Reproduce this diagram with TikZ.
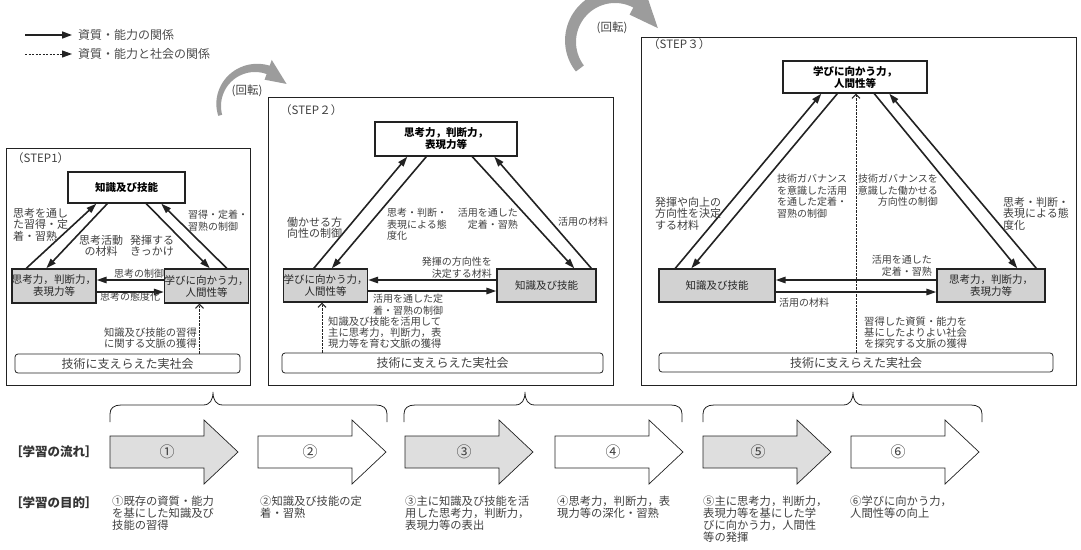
\documentclass[tikz,border=0pt]{standalone}
\usepackage{fontspec}
\setmainfont{Noto Sans CJK JP}
\usetikzlibrary{arrows.meta,calc}
\definecolor{tx}{HTML}{404040}
\definecolor{boxgray}{HTML}{D2D2D2}
\definecolor{arrgray}{HTML}{DEDEDE}
\definecolor{rotgray}{HTML}{9C9C9C}
\definecolor{ln}{HTML}{222222}
\begin{document}
\begin{tikzpicture}[x=1pt,y=-1pt,
 panel/.style={draw=ln, line width=0.8pt},
 topbox/.style={draw=ln, line width=1.4pt, fill=white, font=\fontsize{10.5}{12}\selectfont\bfseries, align=center, inner sep=0pt},
 graybox/.style={draw=ln, line width=1.4pt, fill=boxgray, font=\fontsize{10.5}{12}\selectfont, text=black!85, align=center, inner sep=0pt},
 soc/.style={draw=ln, line width=0.8pt, rounded corners=3pt, fill=white, font=\fontsize{12}{13}\selectfont, text=tx, inner sep=0pt},
 arr/.style={draw=ln, line width=1.6pt, -{Triangle[length=10pt,width=6.5pt]}},
 darr/.style={draw=ln, line width=1pt, dash pattern=on 2.2pt off 1.3pt, -{Straight Barb[length=4pt,width=8pt,line width=1pt]}},
 lbl/.style={font=\fontsize{11}{11.5}\selectfont, text=tx, inner sep=0pt},
 nlbl/.style={font=\fontsize{10}{11.5}\selectfont, text=tx, inner sep=0pt},
 slbl/.style={font=\fontsize{10.3}{10.6}\selectfont, text=tx, inner sep=0pt},
 steplbl/.style={font=\fontsize{11.5}{12}\selectfont, text=tx, inner sep=0pt, anchor=west},
 rotlbl/.style={font=\fontsize{11.5}{12}\selectfont, text=tx, inner sep=0pt},
 lglbl/.style={font=\fontsize{12}{13}\selectfont, text=black!70, inner sep=0pt, anchor=west},
 headlbl/.style={font=\fontsize{12.5}{13}\selectfont\bfseries, text=black!80, inner sep=0pt, anchor=west},
 purp/.style={font=\fontsize{11.3}{11.8}\selectfont, text=tx, inner sep=0pt, anchor=north west, align=left},
 numlbl/.style={font=\fontsize{15}{16}\selectfont, text=black!75, inner sep=0pt},
 blk/.style={draw=ln, line width=0.7pt},
 brace/.style={draw=ln, line width=0.8pt}
]
\useasboundingbox (0,0) rectangle (1081,549);

% ---------- legend ----------
\node[lglbl] (lg1) at (78,35) {資質・能力の関係};
\node[lglbl] (lg2) at (78,54) {資質・能力と社会の関係};
\coordinate (lg1s) at (25,35);
\coordinate (lg2s) at (25,54);
\draw[draw=ln, line width=1.6pt, -{Triangle[length=10pt,width=7pt]}] (lg1s) -- ($(lg1.west)+(-6,0)$);
\draw[draw=ln, line width=1pt, dash pattern=on 2.2pt off 1.3pt, -{Triangle[length=10pt,width=7pt]}] (lg2s) -- ($(lg2.west)+(-6,0)$);

% ---------- rotation arrows ----------
\fill[rotgray] plot[domain=165:292,samples=40] ({255+34*cos(\x)},{106+34*sin(\x)})
  -- plot[domain=292:165,samples=40] ({255+(38+5*(\x-165)/127)*cos(\x)},{106+(38+5*(\x-165)/127)*sin(\x)}) -- cycle;
\fill[rotgray] ({255+28*cos(290)},{106+28*sin(290)}) -- ({255+49*cos(290)},{106+49*sin(290)}) -- ({255+38.5*cos(325)},{106+38.5*sin(325)}) -- cycle;
\node[rotlbl] (rot1) at (247,91) {(回転)};

\fill[rotgray] plot[domain=143:300,samples=40] ({615+39*cos(\x)},{42+39*sin(\x)})
  -- plot[domain=300:143,samples=40] ({615+(49+4*(\x-143)/157)*cos(\x)},{42+(49+4*(\x-143)/157)*sin(\x)}) -- cycle;
\fill[rotgray] ({615+31*cos(298)},{42+31*sin(298)}) -- ({615+62*cos(298)},{42+62*sin(298)}) -- ({615+45*cos(342)},{42+45*sin(342)}) -- cycle;
\node[rotlbl] (rot2) at (612,28) {(回転)};

% ---------- STEP 1 ----------
\draw[panel] (6,148) rectangle (250,385);
\node[steplbl] (st1) at (12,158) {（STEP1）};
\node[topbox, minimum width=117pt, minimum height=31pt] (k1) at (126.5,187.5) {知識及び技能};
\node[graybox, minimum width=84pt, minimum height=34pt] (t1) at (54,286) {思考力，判断力，\\表現力等};
\node[graybox, minimum width=79pt, minimum height=34pt] (l1) at (206.5,286) {学びに向かう力，\\人間性等};
\node[soc, minimum width=225pt, minimum height=19pt] (s1) at (127.5,363.5) {技術に支えらえた実社会};

\draw[arr] ($(t1.north west)+(15,0)$) -- ($(k1.south west)+(29,0)$);
\draw[arr] ($(k1.south west)+(40,0)$) -- ($(t1.north west)+(35,0)$);
\draw[arr] ($(k1.south west)+(79,0)$) -- ($(l1.north west)+(46,0)$);
\draw[arr] ($(l1.north west)+(63,0)$) -- ($(k1.south west)+(94,0)$);
\draw[arr] ($(l1.west)+(0,-6)$) -- ($(t1.east)+(0,-6)$);
\draw[arr] ($(t1.east)+(0,6)$) -- ($(l1.west)+(0,6)$);
\coordinate (d1) at ($(l1.south)+(-7,0)$);
\draw[darr] (s1.north -| d1) -- (d1);

\node[lbl, anchor=north west, align=left] (a11) at (13,208) {思考を通し\\た習得・定\\着・習熟};
\node[lbl, anchor=north, align=center] (a12) at (101,235) {思考活動\\の材料};
\node[lbl, anchor=north, align=center] (a13) at (152,235) {発揮する\\きっかけ};
\node[nlbl, anchor=north west, align=left] (a14) at (188,210) {習得・定着・\\習熟の制御};
\node[nlbl] (a15) at (139,274) {思考の制御};
\node[nlbl] (a16) at (130,297) {思考の態度化};
\node[slbl, anchor=north east, align=right] (a17) at (197,328) {知識及び技能の習得\\に関する文脈の獲得};

% ---------- STEP 2 ----------
\draw[panel] (268,97) rectangle (613,385);
\node[steplbl] (st2) at (280,110) {（STEP２）};
\node[topbox, minimum width=142pt, minimum height=34pt] (t2) at (446,139) {思考力，判断力，\\表現力等};
\node[graybox, minimum width=83pt, minimum height=33pt] (l2) at (325.5,285.5) {学びに向かう力，\\人間性等};
\node[graybox, minimum width=99pt, minimum height=33pt] (k2) at (546.5,285.5) {知識及び技能};
\node[soc, minimum width=321pt, minimum height=20pt] (s2) at (442.5,363) {技術に支えらえた実社会};

\draw[arr] ($(l2.north west)+(31,0)$) -- ($(t2.south west)+(33,0)$);
\draw[arr] ($(t2.south west)+(52,0)$) -- ($(l2.north west)+(49,0)$);
\draw[arr] ($(t2.south west)+(98,0)$) -- ($(k2.north west)+(78,0)$);
\draw[arr] ($(k2.north west)+(95,0)$) -- ($(t2.south west)+(120,0)$);
\draw[arr] ($(k2.west)+(0,-5.5)$) -- ($(l2.east)+(0,-5.5)$);
\draw[arr] ($(l2.east)+(0,5.5)$) -- ($(k2.west)+(0,5.5)$);
\coordinate (d2) at ($(l2.south)+(-3.5,0)$);
\draw[darr] (s2.north -| d2) -- (d2);

\node[lbl, anchor=north west, align=left] (a21) at (287,217) {働かせる方\\向性の制御};
\node[nlbl, anchor=north west, align=left] (a22) at (387,208) {思考・判断・\\表現による態\\度化};
\node[nlbl, anchor=north east, align=right] (a23) at (518,208) {活用を通した\\定着・習熟};
\node[nlbl, anchor=north west, align=left] (a24) at (558,217) {活用の材料};
\node[nlbl, anchor=north east, align=right] (a25) at (492,257) {発揮の方向性を\\決定する材料};
\node[nlbl, anchor=north west, align=left] (a26) at (373,294) {活用を通した定\\着・習熟の制御};
\node[slbl, anchor=north west, align=left] (a27) at (328,317) {知識及び技能を活用して\\主に思考力，判断力，表\\現力等を育む文脈の獲得};

% ---------- STEP 3 ----------
\draw[panel] (641,37) rectangle (1076,385);
\node[steplbl] (st3) at (648,44) {（STEP３）};
\node[topbox, minimum width=144pt, minimum height=32pt] (l3) at (855,77) {学びに向かう力，\\人間性等};
\node[graybox, minimum width=116pt, minimum height=33pt] (k3) at (717,285.5) {知識及び技能};
\node[graybox, minimum width=108pt, minimum height=33pt] (t3) at (991,285.5) {思考力，判断力，\\表現力等};
\node[soc, minimum width=394pt, minimum height=19pt] (s3) at (856,362.5) {技術に支えらえた実社会};

\draw[arr] ($(k3.north west)+(17,0)$) -- ($(l3.south west)+(39,0)$);
\draw[arr] ($(l3.south west)+(55,0)$) -- ($(k3.north west)+(33,0)$);
\draw[arr] ($(l3.south west)+(92,0)$) -- ($(t3.north west)+(81,0)$);
\draw[arr] ($(t3.north west)+(100,0)$) -- ($(l3.south west)+(107,0)$);
\draw[arr] ($(t3.west)+(0,-5.5)$) -- ($(k3.east)+(0,-5.5)$);
\draw[arr] ($(k3.east)+(0,6.5)$) -- ($(t3.west)+(0,6.5)$);
\coordinate (d3) at ($(l3.south)+(1,0)$);
\draw[darr] (s3.north -| d3) -- (d3);

\node[lbl, anchor=north west, align=left] (a31) at (655,197) {発揮や向上の\\方向性を決定\\する材料};
\node[nlbl, anchor=north west, align=left] (a32) at (777,174) {技術ガバナンス\\を意識した活用\\を通した定着・\\習熟の制御};
\node[nlbl, anchor=north east, align=right] (a33) at (938,174) {技術ガバナンスを\\意識した働かせる\\方向性の制御};
\node[lbl, anchor=north west, align=left] (a34) at (1003,197) {思考・判断・\\表現による態\\度化};
\node[nlbl, anchor=north east, align=right] (a35) at (932,255) {活用を通した\\定着・習熟};
\node[nlbl, anchor=north west, align=left] (a36) at (779,298) {活用の材料};
\node[slbl, anchor=north west, align=left] (a37) at (864,317) {習得した資質・能力を\\基にしたよりよい社会\\を探究する文脈の獲得};

% ---------- braces ----------
\foreach \p/\q/\r in {110/213/387, 404/525/682, 703/853/982}{
 \draw[brace] (\p,422) -- (\p,414) .. controls (\p,408) and (\p+4,405) .. (\p+11,405) -- (\q-10,405)
   .. controls (\q-3,405) and (\q,400) .. (\q,392) .. controls (\q,400) and (\q+3,405) .. (\q+10,405)
   -- (\r-11,405) .. controls (\r-4,405) and (\r,408) .. (\r,414) -- (\r,422);
}

% ---------- block arrows ----------
\foreach \a/\fc/\num/\nx [count=\i] in {110/arrgray/①/167, 258/white/②/310, 405/arrgray/③/464, 555/white/④/613, 703/arrgray/⑤/758, 851/white/⑥/898}{
 \draw[blk, fill=\fc] (\a,436) -- (\a+94,436) -- (\a+94,420) -- (\a+128,452) -- (\a+94,484) -- (\a+94,468) -- (\a,468) -- cycle;
 \node[numlbl] (num\i) at (\nx,452) {\num};
}

\node[headlbl] (h1) at (10,452) {［学習の流れ］};
\node[headlbl] (h2) at (10,503) {［学習の目的］};

\node[purp] (p1) at (112,496) {①既存の資質・能力\\を基にした知識及び\\技能の習得};
\node[purp] (p2) at (260,496) {②知識及び技能の定\\着・習熟};
\node[purp] (p3) at (405,496) {③主に知識及び技能を活\\用した思考力，判断力，\\表現力等の表出};
\node[purp] (p4) at (557,496) {④思考力，判断力，表\\現力等の深化・習熟};
\node[purp] (p5) at (703,496) {⑤主に思考力，判断力，\\表現力等を基にした学\\びに向かう力，人間性\\等の発揮};
\node[purp] (p6) at (850,496) {⑥学びに向かう力，\\人間性等の向上};
\end{tikzpicture}
\end{document}
